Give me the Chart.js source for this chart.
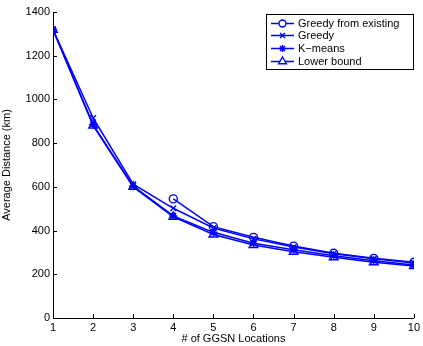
<!DOCTYPE html>
<html><head><meta charset="utf-8">
<script src="https://cdn.jsdelivr.net/npm/chart.js@4.4.1/dist/chart.umd.min.js"></script>
<style>html,body{margin:0;padding:0;background:#fff;}#wrap{width:423px;height:346px;position:relative;}</style>
</head><body><div id="wrap"><canvas id="c" width="423" height="346"></canvas></div>
<script>
const locations = [1,2,3,4,5,6,7,8,9,10];
const greedyFromExisting = [null,null,null,545,418,369,329,296,273,255];
const greedy = [1320,915,612,502,412,362,325,294,271,252];
const kmeans = [1320,885,603,467,392,342,312,285,262,242];
const lowerBound = [1318,880,600,463,382,334,303,278,255,238];
const seriesLabels = ['Greedy from existing','Greedy','K\u2212means','Lower bound'];
const yTicks = [0,200,400,600,800,1000,1200,1400];

const blue = '#0000ff';
const FONT = 'Liberation Sans, Arial, Helvetica, sans-serif';
function pts(arr){ return locations.map((x,i)=>({x:x,y:arr[i]})); }
const styles = [
  {pointStyle:'circle', pointRadius:4},
  {pointStyle:'crossRot', pointRadius:4},
  {pointStyle:'star', pointRadius:4},
  {pointStyle:'triangle', pointRadius:5}
];
const dataArrays = [greedyFromExisting, greedy, kmeans, lowerBound];
const datasets = dataArrays.map((arr,i)=>({
  label: seriesLabels[i],
  data: pts(arr),
  borderColor: blue,
  backgroundColor: 'rgba(0,0,0,0)',
  pointBackgroundColor: 'rgba(0,0,0,0)',
  pointBorderColor: blue,
  borderWidth: 1.5,
  pointBorderWidth: 1.4,
  pointStyle: styles[i].pointStyle,
  pointRadius: styles[i].pointRadius,
  spanGaps: false,
  tension: 0
}));

const inwardTicks = {
  id:'inwardTicks',
  afterDatasetsDraw(chart){
    const ctx = chart.ctx, xs = chart.scales.x, ys = chart.scales.y, a = chart.chartArea;
    ctx.save();
    ctx.strokeStyle = '#000'; ctx.lineWidth = 1;
    ctx.beginPath();
    locations.forEach(v=>{ const px = Math.round(xs.getPixelForValue(v))+0.5; ctx.moveTo(px,a.bottom); ctx.lineTo(px,a.bottom-4); });
    yTicks.forEach(v=>{ const py = Math.round(ys.getPixelForValue(v))+0.5; ctx.moveTo(a.left,py); ctx.lineTo(a.left+4,py); });
    ctx.stroke();
    ctx.restore();
  }
};

const boxLegend = {
  id:'boxLegend',
  afterDraw(chart){
    const ctx = chart.ctx;
    const x0 = 266.5, y0 = 14.5, w = 147, h = 55;
    ctx.save();
    ctx.fillStyle = '#fff'; ctx.fillRect(x0,y0,w,h);
    ctx.strokeStyle = '#000'; ctx.lineWidth = 1; ctx.strokeRect(x0,y0,w,h);
    ctx.font = '11px ' + FONT; ctx.textBaseline = 'middle';
    const rowY = [23.5, 35.5, 48.5, 61.5];
    chart.data.datasets.forEach((ds,i)=>{
      const y = rowY[i];
      ctx.save();
      ctx.strokeStyle = blue; ctx.lineWidth = 1.5;
      ctx.beginPath(); ctx.moveTo(271,y); ctx.lineTo(294,y); ctx.stroke();
      ctx.fillStyle = '#fff'; ctx.strokeStyle = blue; ctx.lineWidth = 1.4;
      Chart.helpers.drawPoint(ctx,{pointStyle:ds.pointStyle, radius:ds.pointRadius-0.5, borderWidth:1.4, rotation:0},282.5,y);
      ctx.restore();
      ctx.fillStyle = '#000';
      ctx.fillText(ds.label, 298, y+0.5);
    });
    ctx.restore();
  }
};

new Chart(document.getElementById('c'),{
  type:'line',
  data:{datasets:datasets},
  options:{
    responsive:false, animation:false,
    layout:{padding:{top:12,right:6,left:0,bottom:0}},
    plugins:{legend:{display:false}, tooltip:{enabled:false}},
    scales:{
      x:{type:'linear', min:1, max:10,
        afterBuildTicks(s){ s.ticks = locations.map(v=>({value:v})); },
        grid:{display:false, drawTicks:false},
        border:{display:true, color:'#000', width:1},
        ticks:{color:'#000', font:{family:FONT, size:11}, padding:3, maxRotation:0, autoSkip:false, callback:v=>String(v)},
        title:{display:true, text:'# of GGSN Locations', color:'#000', font:{family:FONT, size:11}, padding:{top:-2,bottom:0}},
        afterFit(s){ s.height = 28; }
      },
      y:{type:'linear', min:0, max:1400,
        afterBuildTicks(s){ s.ticks = yTicks.map(v=>({value:v})); },
        grid:{display:false, drawTicks:false},
        border:{display:true, color:'#000', width:1},
        ticks:{color:'#000', font:{family:FONT, size:11}, padding:3, callback:v=>String(v)},
        title:{display:true, text:'Average Distance (km)', color:'#000', font:{family:FONT, size:11}, padding:{top:0,bottom:4}},
        afterFit(s){ s.width = 53; }
      }
    }
  },
  plugins:[inwardTicks, boxLegend]
});
</script></body></html>
